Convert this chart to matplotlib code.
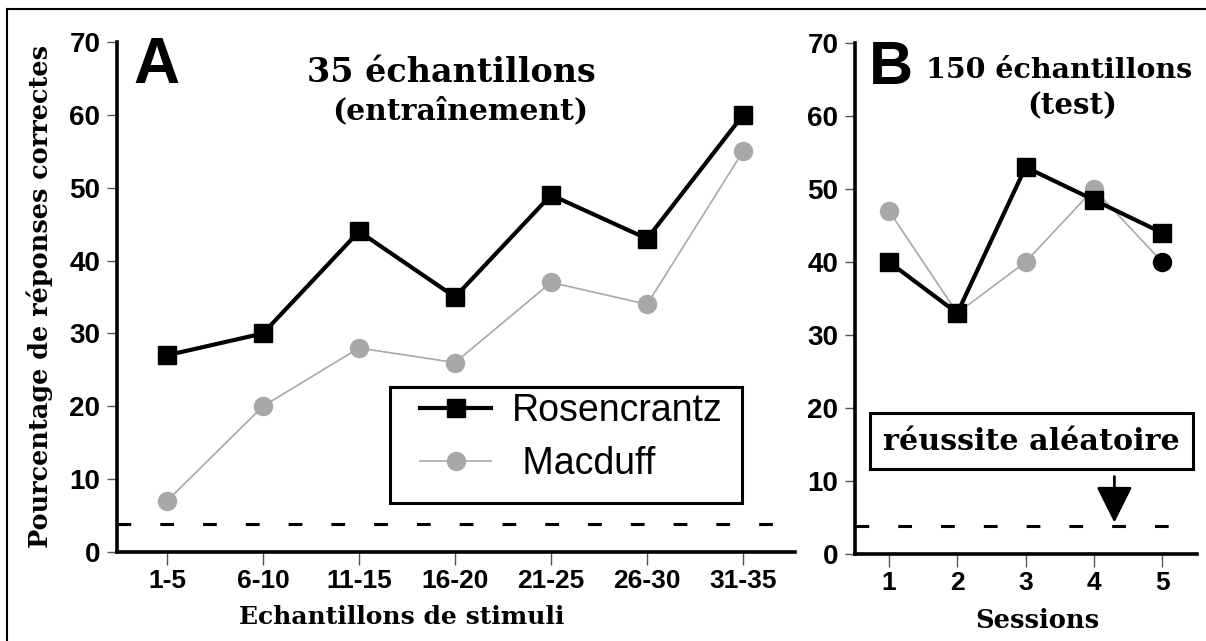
import matplotlib
matplotlib.use("Agg")
import matplotlib.pyplot as plt
from matplotlib.lines import Line2D
from matplotlib.patches import Rectangle

# ---------------- data ----------------
cats_a = ["1-5", "6-10", "11-15", "16-20", "21-25", "26-30", "31-35"]
rosen_a = [27, 30, 44, 35, 49, 43, 60]
macduff_a = [7, 20, 28, 26, 37, 34, 55]

sessions_b = [1, 2, 3, 4, 5]
rosen_b = [40, 33, 53, 48.5, 44]
macduff_b = [47, 33, 40, 50, 40]

chance = 3.8
yticks = [0, 10, 20, 30, 40, 50, 60, 70]

W, H = 1206, 641
fig = plt.figure(figsize=(W / 100, H / 100), dpi=100)

def fx(px):
    return px / W

def fy(py):
    return (H - py) / H

SERIF = ["DejaVu Serif"]
SANS = ["Liberation Sans", "DejaVu Sans"]
GRAY = "#a8a8a8"

def style_axes(ax):
    for s in ["top", "right"]:
        ax.spines[s].set_visible(False)
    for s in ["left", "bottom"]:
        ax.spines[s].set_linewidth(2.6)
    ax.tick_params(axis="y", direction="out", length=7, width=1, color="#555555", pad=5)
    ax.tick_params(axis="x", direction="out", length=9, width=1, color="#555555", pad=3)
    ax.set_ylim(0, 70)
    ax.set_yticks(yticks)
    ax.set_yticklabels([str(v) for v in yticks], fontsize=20, fontweight="bold", family=SANS)

# ---------------- panel A ----------------
axA = fig.add_axes([fx(117), fy(552), fx(795) - fx(117), fy(42) - fy(552)])
style_axes(axA)
xa = list(range(len(cats_a)))
axA.set_xlim(-0.52, 6.54)
axA.set_xticks(xa)
axA.set_xticklabels(cats_a, fontsize=19, fontweight="bold", family=SANS)
axA.axhline(chance, color="black", lw=2.2, dashes=(4.5, 9.5), zorder=1)
lm, = axA.plot(xa, macduff_a, color=GRAY, lw=1.2, marker="o", ms=13,
               mfc=GRAY, mec=GRAY, zorder=2, label="Macduff")
lr, = axA.plot(xa, rosen_a, color="black", lw=3, marker="s", ms=13,
               mfc="black", mec="black", zorder=3, label="Rosencrantz")

leg = axA.legend(handles=[lr, lm], labels=["Rosencrantz", " Macduff"],
                 loc="upper left", bbox_to_anchor=(fx(420), fy(393)),
                 bbox_transform=fig.transFigure, frameon=False,
                 prop={"family": SANS, "size": 27}, handlelength=1.9,
                 handletextpad=0.55, labelspacing=0.45, borderpad=0, borderaxespad=0)
fig.patches.append(Rectangle((fx(390), fy(503)), fx(742) - fx(390), fy(387) - fy(503),
                             transform=fig.transFigure, fill=False, lw=2.2,
                             edgecolor="black"))

fig.text(fx(133), fy(83), "A", fontsize=46, fontweight="bold", family=SANS,
         ha="left", va="baseline")
fig.text(fx(451), fy(82), "35 échantillons", fontsize=24, fontweight="bold",
         family=SERIF, ha="center", va="baseline")
fig.text(fx(460), fy(119), "(entraînement)", fontsize=21.5, fontweight="bold",
         family=SERIF, ha="center", va="baseline")
fig.text(fx(402), fy(617), "Echantillons de stimuli", fontsize=18, fontweight="bold",
         family=SERIF, ha="center", va="center")
fig.text(fx(40), fy(297), "Pourcentage de réponses correctes", fontsize=18.4,
         fontweight="bold", family=SERIF, ha="center", va="center", rotation=90)

# ---------------- panel B ----------------
axB = fig.add_axes([fx(855), fy(554), fx(1197) - fx(855), fy(43) - fy(554)])
style_axes(axB)
axB.set_xlim(0.502, 5.51)
axB.set_xticks(sessions_b)
axB.set_xticklabels([str(s) for s in sessions_b], fontsize=19, fontweight="bold", family=SANS)
axB.axhline(chance, color="black", lw=2.2, dashes=(4.5, 9.5), zorder=1)
axB.plot(sessions_b, macduff_b, color=GRAY, lw=1.2, zorder=2)
axB.plot(sessions_b[:-1], macduff_b[:-1], ls="none", marker="o", ms=13,
         mfc=GRAY, mec=GRAY, zorder=2)
axB.plot(sessions_b[-1:], macduff_b[-1:], ls="none", marker="o", ms=13,
         mfc="black", mec="black", zorder=2)
axB.plot(sessions_b, rosen_b, color="black", lw=3, marker="s", ms=13,
         mfc="black", mec="black", zorder=3)

axB.annotate("", xy=(4.3, 4.3), xytext=(4.3, 10.6),
             arrowprops=dict(arrowstyle="-|>,head_length=0.9,head_width=0.45",
                             lw=2, color="black", mutation_scale=25,
                             shrinkA=0, shrinkB=0))

fig.text(fx(869), fy(84), "B", fontsize=44, fontweight="bold", family=SANS,
         ha="left", va="baseline")
fig.text(fx(1059), fy(78), "150 échantillons", fontsize=20.5, fontweight="bold",
         family=SERIF, ha="center", va="baseline")
fig.text(fx(1072), fy(114), "(test)", fontsize=21, fontweight="bold",
         family=SERIF, ha="center", va="baseline")
fig.patches.append(Rectangle((fx(870), fy(469)), fx(1193) - fx(870), fy(413) - fy(469),
                             transform=fig.transFigure, fill=False, lw=2.2,
                             edgecolor="black"))
fig.text(fx(1031), fy(441), "réussite aléatoire", fontsize=21.7, fontweight="bold",
         family=SERIF, ha="center", va="center")
fig.text(fx(1037), fy(620), "Sessions", fontsize=18.5, fontweight="bold",
         family=SERIF, ha="center", va="center")

# outer frame (top and left edges)
fig.add_artist(Line2D([fx(7), fx(7)], [fy(641), fy(9)], transform=fig.transFigure,
                      color="black", lw=1.5))
fig.add_artist(Line2D([fx(7), fx(1206)], [fy(9), fy(9)], transform=fig.transFigure,
                      color="black", lw=1.5))

fig.savefig("out.png", dpi=100)
